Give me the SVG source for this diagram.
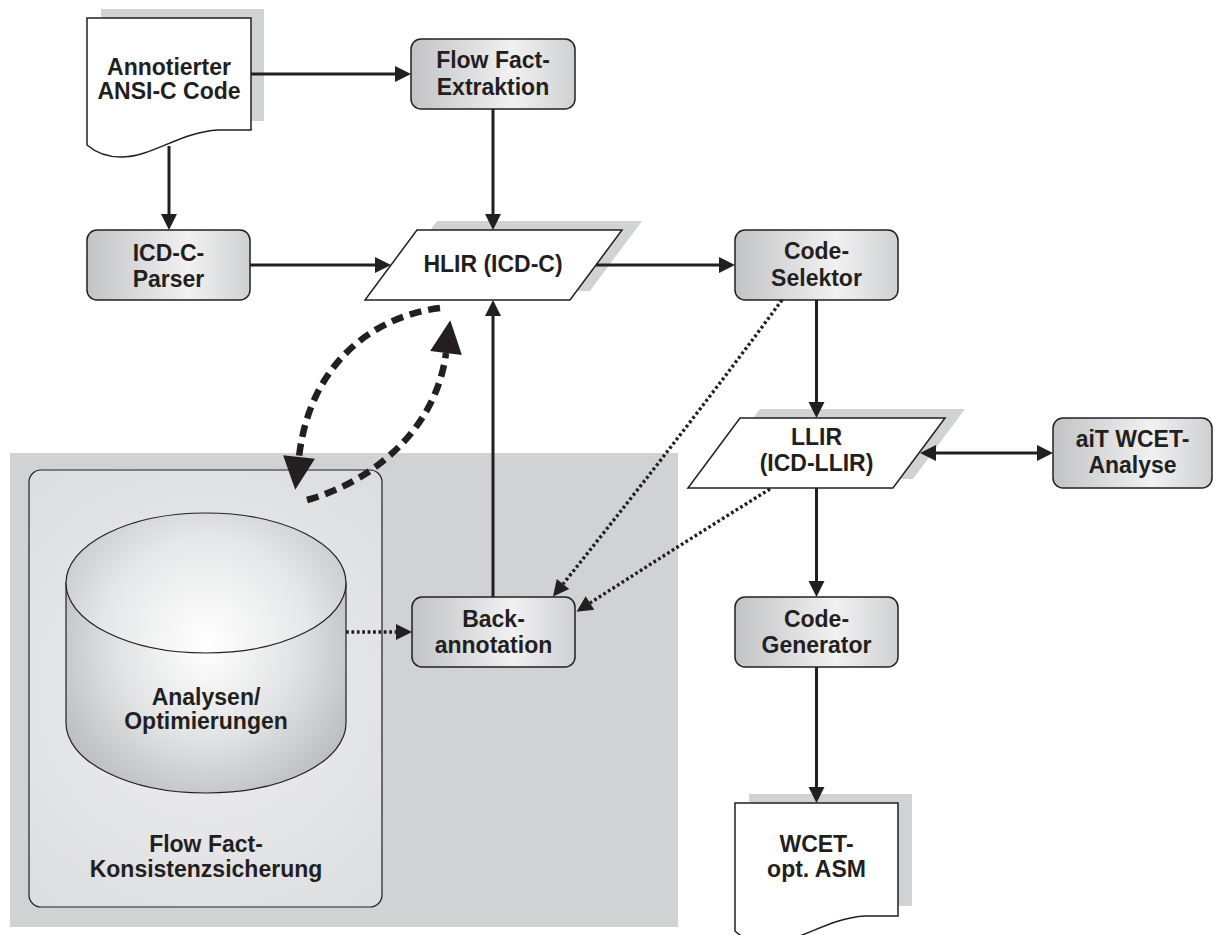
<svg xmlns="http://www.w3.org/2000/svg" width="1214" height="935" viewBox="0 0 1214 935">
<style>
  text{font-family:"Liberation Sans",Arial,sans-serif;font-weight:bold;font-size:23px;fill:#231f20;text-anchor:middle}
  .box{fill:url(#boxGrad);stroke:#231f20;stroke-width:1.5}
  .plain{fill:#fff;stroke:#231f20;stroke-width:1.5}
  .shadow{fill:#d1d2d4;stroke:none}
  .solid{fill:none;stroke:#231f20;stroke-width:3}
  .dotted{fill:none;stroke:#231f20;stroke-width:3.4;stroke-dasharray:2.8 2.6}
  .dashed{fill:none;stroke:#231f20;stroke-width:6.5;stroke-dasharray:12 7}
</style>
<defs>
  <linearGradient id="boxGrad" x1="0" y1="0" x2="1" y2="0">
    <stop offset="0" stop-color="#c2c3c5"/>
    <stop offset="0.62" stop-color="#f1f1f2"/>
    <stop offset="1" stop-color="#cfd0d2"/>
  </linearGradient>
  <radialGradient id="cylGrad" gradientUnits="userSpaceOnUse" cx="206" cy="650" r="175">
    <stop offset="0" stop-color="#ffffff"/>
    <stop offset="0.5" stop-color="#e2e3e4"/>
    <stop offset="1" stop-color="#b7b8ba"/>
  </radialGradient>
  <radialGradient id="topGrad" gradientUnits="userSpaceOnUse" cx="206" cy="640" r="170">
    <stop offset="0" stop-color="#ffffff"/>
    <stop offset="0.6" stop-color="#e6e7e8"/>
    <stop offset="1" stop-color="#c6c7c9"/>
  </radialGradient>
  <radialGradient id="innerGrad" gradientUnits="userSpaceOnUse" cx="206" cy="690" r="300">
    <stop offset="0" stop-color="#f0f0f1"/>
    <stop offset="1" stop-color="#dadbdd"/>
  </radialGradient>
  <marker id="ah" markerUnits="userSpaceOnUse" markerWidth="16" markerHeight="16" refX="0" refY="8" orient="auto" overflow="visible">
    <path d="M0,0 L16,8 L0,16 z" fill="#231f20"/>
  </marker>
  <marker id="ahs" markerUnits="userSpaceOnUse" markerWidth="16" markerHeight="16" refX="0" refY="8" orient="auto-start-reverse" overflow="visible">
    <path d="M0,0 L16,8 L0,16 z" fill="#231f20"/>
  </marker>
  <marker id="big" markerUnits="userSpaceOnUse" markerWidth="33" markerHeight="32" refX="0" refY="16" orient="auto" overflow="visible">
    <path d="M0,0 L33,16 L0,32 z" fill="#231f20"/>
  </marker>
</defs>

<g id="container">
  <rect x="10" y="453" width="668" height="474" fill="#d1d2d4"/>
  <rect x="29" y="470" width="353" height="437" rx="12" fill="url(#innerGrad)" stroke="#231f20" stroke-width="1.2"/>
  <text x="206" y="852">Flow Fact-</text>
  <text x="206" y="877">Konsistenzsicherung</text>
</g>

<g id="analysen">
  <path d="M66,583 V723 A140,70 0 0 0 346,723 V583 Z" fill="url(#cylGrad)" stroke="#231f20" stroke-width="1.2"/>
  <ellipse cx="206" cy="583" rx="140" ry="70" fill="url(#topGrad)" stroke="#231f20" stroke-width="1.2"/>
  <text x="206" y="705">Analysen/</text>
  <text x="206" y="729">Optimierungen</text>
</g>

<g id="annotierter">
  <rect class="shadow" x="101" y="9" width="163" height="112"/>
  <path class="plain" d="M87,18 H251 V130 L218,130 C180,132 152,157 121,157 C106,157 94,151 87,145 Z"/>
  <text x="169" y="75">Annotierter</text>
  <text x="169" y="99">ANSI-C Code</text>
</g>

<g id="flowfact">
  <rect class="box" x="411" y="39" width="164" height="70" rx="10"/>
  <text x="493" y="68">Flow Fact-</text>
  <text x="493" y="95">Extraktion</text>
</g>

<g id="parser">
  <rect class="box" x="87" y="230" width="163" height="70" rx="10"/>
  <text x="168.5" y="261">ICD-C-</text>
  <text x="168.5" y="287">Parser</text>
</g>

<g id="hlir">
  <polygon class="shadow" points="437,221 642,221 590,291 385,291"/>
  <polygon class="plain" points="417,230 622,230 570,300 365,300"/>
  <text x="493" y="272">HLIR (ICD-C)</text>
</g>

<g id="codeselektor">
  <rect class="box" x="735" y="230" width="163" height="70" rx="10"/>
  <text x="816.5" y="259">Code-</text>
  <text x="816.5" y="286">Selektor</text>
</g>

<g id="llir">
  <polygon class="shadow" points="760,409 965,409 913,479 708,479"/>
  <polygon class="plain" points="740,418 945,418 893,488 688,488"/>
  <text x="816.5" y="445">LLIR</text>
  <text x="816.5" y="471">(ICD-LLIR)</text>
</g>

<g id="ait">
  <rect class="box" x="1053" y="418" width="159" height="70" rx="10"/>
  <text x="1132.5" y="447">aiT WCET-</text>
  <text x="1132.5" y="473">Analyse</text>
</g>

<g id="backannotation">
  <rect class="box" x="412" y="597" width="163" height="70" rx="10"/>
  <text x="493.5" y="627">Back-</text>
  <text x="493.5" y="653">annotation</text>
</g>

<g id="codegenerator">
  <rect class="box" x="735" y="597" width="163" height="70" rx="10"/>
  <text x="816.5" y="627">Code-</text>
  <text x="816.5" y="653">Generator</text>
</g>

<g id="wcetasm">
  <rect class="shadow" x="749" y="794" width="163" height="112"/>
  <path class="plain" d="M735,803 H898 V916 L865,916 C827,918 799,943 768,943 C753,943 741,937 735,931 Z"/>
  <text x="816.5" y="852">WCET-</text>
  <text x="816.5" y="877">opt. ASM</text>
</g>

<g id="connectors">
  <path class="solid" d="M251,74 H395" marker-end="url(#ah)"/>
  <path class="solid" d="M169,146 V214" marker-end="url(#ah)"/>
  <path class="solid" d="M493,109 V214" marker-end="url(#ah)"/>
  <path class="solid" d="M250,265 H375" marker-end="url(#ah)"/>
  <path class="solid" d="M596,265 H719" marker-end="url(#ah)"/>
  <path class="solid" d="M816.5,300 V402" marker-end="url(#ah)"/>
  <path class="solid" d="M936,453 H1037" marker-start="url(#ahs)" marker-end="url(#ahs)"/>
  <path class="solid" d="M816.5,488 V581" marker-end="url(#ah)"/>
  <path class="solid" d="M816.5,667 V787" marker-end="url(#ah)"/>
  <path class="solid" d="M493,597 V316" marker-end="url(#ah)"/>
  <path class="dotted" d="M346,632 H396" marker-end="url(#ah)"/>
  <path class="dotted" d="M782,300 Q690,425 563,584" marker-end="url(#ah)"/>
  <path class="dotted" d="M770,489 Q680,545 590,603" marker-end="url(#ah)"/>
  <path class="dashed" d="M440,308 C375,316 310,362 299,457" marker-end="url(#big)"/>
  <path class="dashed" d="M307,500 C372,482 436,430 446,353" marker-end="url(#big)"/>
</g>
</svg>
